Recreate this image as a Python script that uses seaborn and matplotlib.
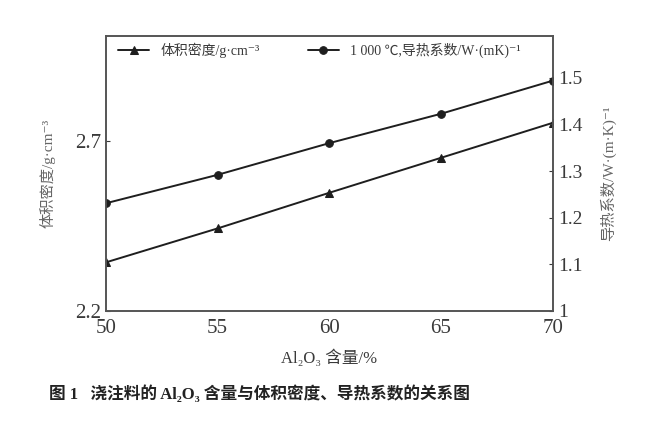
import pandas as pd
import matplotlib.pyplot as plt
import seaborn as sns

al2o3 = [50, 55, 60, 65, 70]
density = [2.343, 2.443, 2.548, 2.651, 2.754]
conductivity = [1.231, 1.292, 1.360, 1.423, 1.494]

sns.set_theme(style='white')
fonts = ['Liberation Serif', 'Noto Sans CJK SC', 'DejaVu Sans']
plt.rcParams['font.family'] = fonts
txt = '#3a3a3a'
line = '#1e1e1e'

df = pd.DataFrame({'al2o3': al2o3, 'density': density, 'conductivity': conductivity})

fig = plt.figure(figsize=(6.58, 4.33), dpi=100)
ax = fig.add_axes([0.161, 0.282, 0.679, 0.635])
ax2 = ax.twinx()

sns.lineplot(data=df, x='al2o3', y='density', ax=ax, color=line, marker='^',
             markersize=5.5, linewidth=1.4, markeredgecolor=line, label='体积密度/g·cm⁻³', legend=False)
sns.lineplot(data=df, x='al2o3', y='conductivity', ax=ax2, color=line, marker='o',
             markersize=5.5, linewidth=1.4, markeredgecolor=line,
             label='1 000 ℃,导热系数/W·(mK)⁻¹', legend=False)

ax.set_xlim(50, 70)
ax.set_ylim(2.2, 3.01)
ax2.set_ylim(1.0, 1.59)
ax.set_xticks(al2o3)
ax.set_yticks([2.2, 2.7])
ax2.set_yticks([1.0, 1.1, 1.2, 1.3, 1.4, 1.5])
ax2.set_yticklabels(['1', '1.1', '1.2', '1.3', '1.4', '1.5'])

for a in (ax, ax2):
    a.tick_params(direction='in', length=3, colors=txt, labelsize=15, width=0.8)
    for s in a.spines.values():
        s.set_color('#555555')
        s.set_linewidth(1.2)
ax.tick_params(axis='x', pad=6, labelsize=15)
ax2.tick_params(axis='y', labelsize=14, pad=4)

ax.set_xlabel('Al₂O₃ 含量/%', fontsize=12, color=txt, labelpad=8)
ax.set_ylabel('体积密度/g·cm⁻³', fontsize=11, color='#666666', labelpad=14)
ax2.set_ylabel('导热系数/W·(m·K)⁻¹', fontsize=11, color='#666666', labelpad=12)

h1, l1 = ax.get_legend_handles_labels()
h2, l2 = ax2.get_legend_handles_labels()
ax.legend(h1 + h2, l1 + l2, loc='upper left', ncol=2, frameon=False, fontsize=10,
          bbox_to_anchor=(0.0, 1.02), columnspacing=3.5, handlelength=2.2,
          labelcolor=txt)

fig.text(0.075, 0.078, '图 1   浇注料的 Al₂O₃ 含量与体积密度、导热系数的关系图',
         fontsize=12, fontweight='bold', color='#222222', ha='left')

fig.savefig('out.png', dpi=100)
